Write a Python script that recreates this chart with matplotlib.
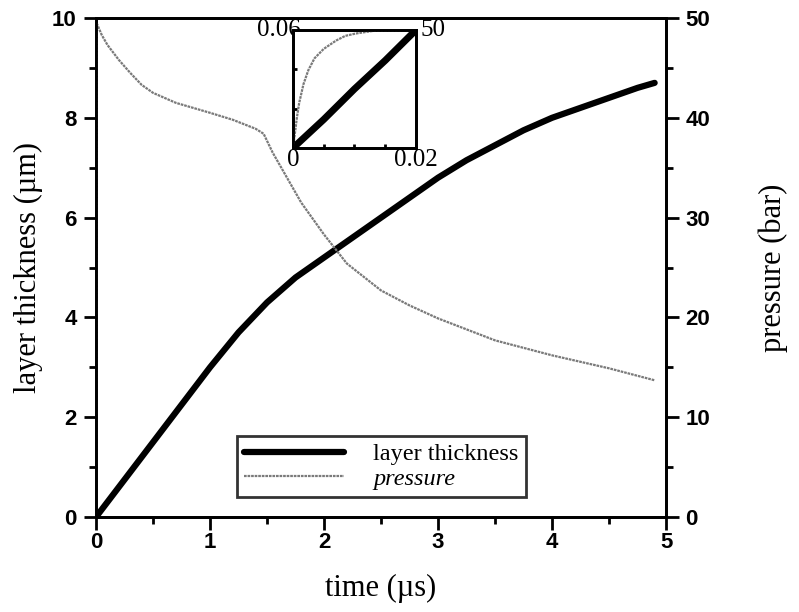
import matplotlib
matplotlib.use("Agg")
import matplotlib.pyplot as plt
import matplotlib.transforms as mtransforms
from matplotlib.ticker import MultipleLocator

# main curves
t_thick = [0, 0.1, 0.25, 0.5, 0.75, 1.0, 1.25, 1.5, 1.75, 2.0, 2.25, 2.5, 2.75,
           3.0, 3.25, 3.5, 3.75, 4.0, 4.25, 4.5, 4.75, 4.9]
thickness = [0, 0.3, 0.75, 1.5, 2.25, 3.0, 3.7, 4.3, 4.8, 5.2, 5.6, 6.0, 6.4,
             6.8, 7.15, 7.45, 7.75, 8.0, 8.2, 8.4, 8.6, 8.7]

t_press = [0, 0.005, 0.05, 0.1, 0.2, 0.3, 0.4, 0.5, 0.7, 1.0, 1.2, 1.4, 1.47,
           1.55, 1.65, 1.8, 2.0, 2.2, 2.5, 2.75, 3.0, 3.5, 4.0, 4.5, 4.9]
pressure = [0, 49.5, 48.3, 47.3, 45.8, 44.5, 43.3, 42.5, 41.5, 40.5, 39.8, 38.9, 38.4,
            36.5, 34.5, 31.5, 28.3, 25.4, 22.7, 21.2, 19.9, 17.7, 16.2, 14.9, 13.7]

# inset (first 20 ns)
ti_thick = [0, 0.005, 0.01, 0.015, 0.02]
thick_in = [0, 0.0145, 0.03, 0.0445, 0.06]
ti_press = [0, 0.0003, 0.00064, 0.001, 0.0017, 0.0025, 0.0035, 0.005, 0.007, 0.0085, 0.0102, 0.013, 0.02]
press_in = [0, 6, 13, 19, 27, 33, 38, 42, 45.5, 47.5, 48.5, 49.6, 50]

serif = "Liberation Serif"
gray = "#7a7a7a"
dots = (0, (1.2, 0.4))

fig = plt.figure(figsize=(7.99, 6.12), dpi=100)
ax = fig.add_axes([0.1202, 0.1552, 0.7134, 0.8154])
ax2 = ax.twinx()

ln1, = ax.plot(t_thick, thickness, color="black", lw=4.5, solid_capstyle="round", zorder=3)
ln2, = ax2.plot(t_press, pressure, color=gray, lw=1.6, ls=dots)

ax.set_xlim(0, 5)
ax.set_ylim(0, 10)
ax2.set_ylim(0, 50)
ax.xaxis.set_major_locator(MultipleLocator(1))
ax.xaxis.set_minor_locator(MultipleLocator(0.5))
ax.yaxis.set_major_locator(MultipleLocator(2))
ax.yaxis.set_minor_locator(MultipleLocator(1))
ax2.yaxis.set_major_locator(MultipleLocator(10))
ax2.yaxis.set_minor_locator(MultipleLocator(5))

for a in (ax, ax2):
    for s in a.spines.values():
        s.set_linewidth(2)
    a.tick_params(which="major", direction="out", length=9, width=2, pad=5)
    a.tick_params(which="minor", direction="out", length=5, width=2)
ax.tick_params(axis="x", which="major", pad=2)
for lab in ax.get_xticklabels() + ax.get_yticklabels() + ax2.get_yticklabels():
    lab.set_family("Liberation Sans")
    lab.set_fontsize(16)
    lab.set_fontweight("bold")

ax.set_xlabel("time (\u00b5s)", family=serif, fontsize=22)
ax.set_ylabel("layer thickness (\u00b5m)", family=serif, fontsize=22)
ax2.set_ylabel("pressure (bar)", family=serif, fontsize=22)
ax.xaxis.set_label_coords(0.5, -0.115)
ax.yaxis.set_label_coords(-0.093, 0.5)
ax2.yaxis.set_label_coords(1.163, 0.5)

leg = ax.legend([ln1, ln2], ["layer thickness", "pressure"], loc="lower left",
                bbox_to_anchor=(0.247, 0.04), borderaxespad=0, frameon=True,
                fancybox=False, handlelength=4.1, handletextpad=1.2, borderpad=0.3,
                labelspacing=0.1, prop={"family": serif, "size": 17.5})
leg.get_frame().set_edgecolor("black")
leg.get_frame().set_linewidth(2)
leg.get_texts()[1].set_fontstyle("italic")

# inset y label partly hidden behind the inset box
ax.text(0.282, 0.975, "0.06", transform=ax.transAxes, ha="left", va="center",
        family=serif, fontsize=18, zorder=1)

axi = fig.add_axes([0.3667, 0.7582, 0.1539, 0.1928], zorder=5)
axi.set_facecolor("white")
axi2 = axi.twinx()
axi.plot(ti_thick, thick_in, color="black", lw=5)
axi2.plot(ti_press, press_in, color=gray, lw=1.6, ls=dots)
axi.set_xlim(0, 0.02)
axi.set_ylim(0, 0.06)
axi2.set_ylim(0, 50)
axi.set_xticks([0, 0.005, 0.01, 0.015, 0.02])
axi.set_xticklabels(["0", "", "", "", "0.02"], family=serif, fontsize=18)
shift = mtransforms.ScaledTranslation(-9 / 100, 0, fig.dpi_scale_trans)
xl = axi.get_xticklabels()[-1]
xl.set_transform(xl.get_transform() + shift)
axi.set_yticks([0.02, 0.04])
axi.set_yticklabels([])
for a in (axi, axi2):
    for s in a.spines.values():
        s.set_linewidth(2)
    a.tick_params(direction="in", length=3, width=2, pad=1)
axi2.set_yticks([50])
axi2.tick_params(length=0, pad=3)
axi2.set_yticklabels(["50"], family=serif, fontsize=18, va="center")

fig.savefig("out.png", dpi=100)
